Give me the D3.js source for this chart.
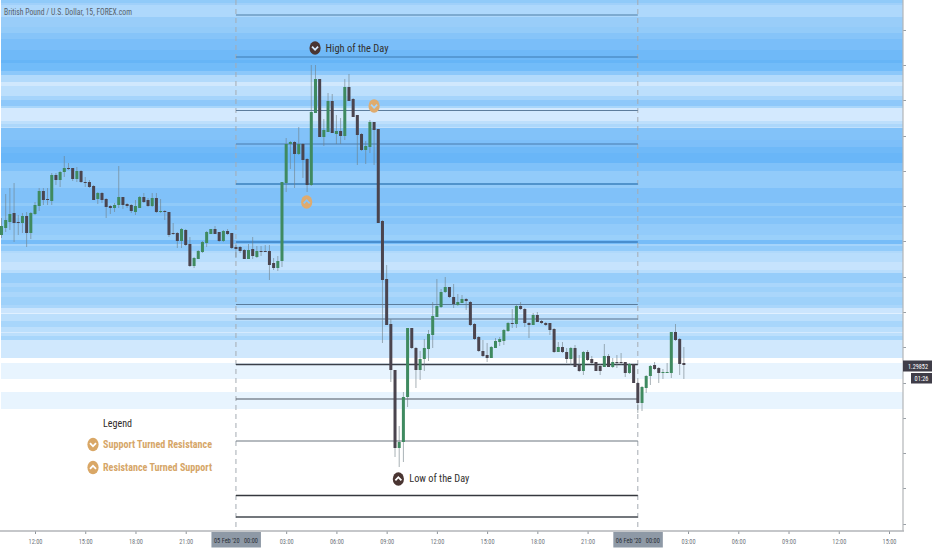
<!DOCTYPE html>
<html><head><meta charset="utf-8">
<script src="https://cdn.jsdelivr.net/npm/d3@7"></script>
<style>html,body{margin:0;padding:0;background:#fff}svg{display:block}
text{font-family:"Liberation Sans Narrow","Roboto Condensed","Liberation Sans",sans-serif}</style>
</head><body><svg id="c" width="932" height="550"></svg>
<script>
// Prices are stored as pipettes above 1.29000
const BASE = 1.29, PIP = 1e-5;
const opens=[982,989,995,1004,995,994,1001,984,1003,1011,1026,1018,1016,1042,1037,1045,1049,1049,1038,1046,1035,1035,1031,1018,1024,1018,1011,1009,1012,1020,1013,1012,1005,1009,1020,1017,1011,1019,1005,1006,1005,984,984,976,987,973,951,958,965,974,983,988,985,976,986,984,970,970,967,958,968,960,966,966,966,954,949,956,1034,1073,1075,1063,1073,1058,1032,1104,1138,1080,1085,1116,1083,1086,1081,1130,1118,1102,1083,1067,1070,1095,1088,996,938,893,847,769,775,820,889,869,847,858,868,882,900,910,925,930,920,912,914,918,915,893,880,866,862,859,869,875,876,886,894,893,911,908,894,892,902,896,894,894,888,865,870,865,858,869,852,846,865,858,855,851,850,861,850,855,855,855,844,853,834,814,829,841,852,849,844,844,844,885,878,854];
const highs=[999,1023,1029,1034,1002,1004,1005,1005,1015,1029,1029,1029,1044,1044,1046,1061,1054,1049,1050,1047,1040,1037,1032,1025,1025,1019,1012,1014,1051,1020,1014,1013,1017,1021,1024,1019,1024,1024,1018,1007,1005,994,985,989,988,980,960,967,976,986,988,991,985,987,988,984,972,971,968,973,980,971,971,972,972,959,961,1035,1079,1076,1076,1090,1074,1059,1152,1152,1138,1098,1124,1123,1102,1099,1138,1143,1119,1102,1084,1076,1097,1095,1088,997,952,898,847,791,825,889,889,870,866,878,887,915,938,928,940,930,933,923,922,919,916,894,881,877,874,871,879,880,888,895,908,912,915,909,895,904,905,897,895,894,889,875,875,869,870,872,862,866,867,861,855,853,873,863,859,862,864,855,854,853,835,831,842,852,855,850,848,854,885,893,879,870];
const lows=[979,985,987,975,982,984,970,978,1002,1006,1012,1012,1012,1032,1030,1040,1047,1036,1035,1034,1030,1029,1017,1013,1014,999,1003,1005,1009,1008,1009,1004,1002,1009,1014,1010,1010,1004,1004,997,980,982,969,969,971,950,949,958,964,970,983,983,975,975,982,968,959,964,958,958,958,959,961,965,937,947,946,950,1025,1048,1029,1062,1039,1025,1031,1104,1080,1071,1085,1084,1073,1073,1077,1116,1100,1052,1066,1053,1064,1052,994,874,892,835,760,750,755,810,868,829,837,846,856,869,900,909,924,919,909,911,914,907,891,877,865,860,855,859,869,871,872,885,889,889,907,890,879,892,895,893,891,882,864,865,864,854,852,850,845,842,856,853,846,842,850,850,849,849,852,840,843,834,804,806,824,832,847,834,838,844,839,876,842,838];
const closes=[991,997,1003,994,994,1001,984,1004,1012,1026,1017,1017,1042,1037,1045,1049,1048,1038,1046,1035,1034,1030,1017,1024,1017,1010,1009,1012,1020,1012,1011,1006,1011,1020,1015,1011,1019,1005,1006,1005,982,983,976,988,972,951,959,966,975,985,988,983,976,986,983,969,968,966,958,967,961,966,965,965,952,949,956,1035,1073,1075,1063,1073,1057,1032,1105,1138,1080,1087,1116,1084,1086,1081,1130,1116,1100,1082,1067,1071,1095,1087,994,937,892,847,769,775,820,889,869,847,858,869,883,901,911,925,930,920,913,915,918,916,892,878,866,861,859,870,876,878,887,894,893,911,908,894,892,902,895,894,892,887,865,870,865,858,869,850,846,865,857,854,846,846,861,850,855,854,854,844,853,834,814,830,841,851,848,844,845,845,885,877,853,852];

// Shaded price bands: edges (pipettes, descending) and the fill of each band
const bandEdges=[1217,1214,1212,1200,1190,1184,1178,1167,1157,1154,1146,1142,1135,1131,1121,1117,1111,1109,1096,1093,1090,1089,1077,1070,1064,1054,1046,1029,1014,1011,1001,999,993,982,977,973,971,966,964,955,947,944,937,934,930,925,920,912,909,904,903,896,890,885,884,881,877,859,854,838,825,808];
const bandColors=["#90caf9","#a0d0fa","#aed8fc","#99cdf9","#93cbf9","#86c4f9","#7abef9","#6fb9f8","#66b5f7","#72bcf9","#8cc8fa","#b2dafb","#d0e8fd","#bcdffc","#a5d4fb","#8ec8fa","#a8d6fb","#d3e9fe","#bddffc","#acd7fb","#c0e0fc","#82c2f9","#7dbff9","#6fb9f8","#69b6f8","#7fc1f9","#92cbfa","#80c1f9","#90caf9","#80c1f9","#90caf9","#85c4f9","#92cbfa","#9ad0fa","#76bcf8","#a5d4fb","#92cbfa","#b0d9fb","#b8ddfc","#c6e3fd","#b8ddfc","#96cdfa","#96cdfa","#aad6fb","#9ed1fa","#aad6fb","#9ed1fa","#aad6fb","#cbe5fd","#e0f0ff","#bcdffc","#a8d6fb","#bcdffc","#d5eafe","#bcdffc","#a8d6fb","#d0e8fd","#ffffff","#e8f4fe","#ffffff","#e8f4fe"];

// Horizontal support / resistance levels
const levels=[1202,1160,1106.5,1073,1033,975,912.5,898,852.5,818,776,721.5,700];
const levelColors=["#4d7ca4","#3f7cb2","#5c7c9c","#4a7dad","#3a80bd","#3a7fc2","#5a7c9c","#56708c","#3a3f48","#4c5560","#6c7680","#35383e","#454a50"];
const levelWidths=[1.1,1.2,1.2,1.2,1.4,1.4,1.2,1.2,1.6,1.2,1.1,1.4,1.3];

const priceTicks=[1187,1152,1117,1081,1046,1011,976,940,905,870,834,799,764,729,693];
const timeLabels=["12:00","15:00","18:00","21:00","03:00","06:00","09:00","12:00","15:00","18:00","21:00","03:00","06:00","09:00","12:00","15:00"];
const title="British Pound / U.S. Dollar, 15, FOREX.com";
const lastPrice=852, countdown="01:26";

const t0=Date.UTC(2020,1,4,10), step=15*60e3;
const hour=3600e3;
const timeOf=i=>new Date(t0+i*step);
const timeTicks=d3.range(0,18).map(h=>new Date(Date.UTC(2020,1,4,12)+h*3*hour)).filter(d=>d.getUTCHours()!==0);

const x=d3.scaleUtc().domain([Date.UTC(2020,1,4,12),Date.UTC(2020,1,6,15)]).range([35,889]);
const y=d3.scaleLinear().domain([BASE+1217*PIP,BASE+667*PIP]).range([0,550]);
const P=v=>y(BASE+v*PIP);
const X=i=>x(timeOf(i));

const svg=d3.select("#c");
svg.append("rect").attr("width",932).attr("height",550).attr("fill","#fff");
const plotL=1, plotR=903;

// bands
svg.append("g").selectAll("rect").data(bandColors).join("rect")
 .attr("x",plotL).attr("width",plotR-plotL)
 .attr("y",(d,i)=>P(bandEdges[i])).attr("height",(d,i)=>P(bandEdges[i+1])-P(bandEdges[i]))
 .attr("fill",d=>d).attr("shape-rendering","crispEdges");

// session lines
const sessStart=Date.UTC(2020,1,5), sessEnd=Date.UTC(2020,1,6);
svg.append("g").selectAll("line").data([sessStart,sessEnd]).join("line")
 .attr("x1",d=>x(d)).attr("x2",d=>x(d)).attr("y1",0).attr("y2",531)
 .attr("stroke","#a5abb2").attr("stroke-width",1).attr("stroke-dasharray","5,4");

// levels
svg.append("g").selectAll("line").data(levels).join("line")
 .attr("x1",x(sessStart)).attr("x2",x(sessEnd)).attr("y1",d=>P(d)).attr("y2",d=>P(d))
 .attr("stroke",(d,i)=>levelColors[i]).attr("stroke-width",(d,i)=>levelWidths[i]);

// candles
const idx=d3.range(opens.length);
const gc=svg.append("g");
gc.selectAll("line").data(idx).join("line")
 .attr("x1",X).attr("x2",X).attr("y1",i=>P(highs[i])).attr("y2",i=>P(lows[i]))
 .attr("stroke","#6f7f86").attr("stroke-opacity",.6).attr("stroke-width",1);
gc.selectAll("rect").data(idx).join("rect")
 .attr("x",i=>X(i)-1.5).attr("width",3)
 .attr("y",i=>P(Math.max(opens[i],closes[i])))
 .attr("height",i=>Math.max(1,Math.abs(P(opens[i])-P(closes[i]))))
 .attr("fill",i=>closes[i]>=opens[i]?"#3f8a60":"#4a444e");

// icons
function icon(cx,cy,up,fill,chev){
 const g=svg.append("g").attr("transform",`translate(${cx},${cy})`);
 g.append("ellipse").attr("rx",5.6).attr("ry",6.8).attr("fill",fill);
 const s=up?-1:1;
 g.append("path").attr("d",`M-3,${-1.4*s}L0,${1.8*s}L3,${-1.4*s}`).attr("fill","none").attr("stroke",chev).attr("stroke-width",1.8);
}
// text helper: fits a label to the width it occupies in the reference
const label=(px,py,str,c,w,sz,len,anchor)=>{
 const t=svg.append("text").attr("x",px).attr("y",py).attr("fill",c).attr("font-weight",w).attr("font-size",sz)
  .attr("xml:space","preserve").text(str);
 if(anchor) t.attr("text-anchor",anchor);
 if(len) t.attr("textLength",len).attr("lengthAdjust","spacingAndGlyphs");
 return t;
};
icon(X(74.9),P(1169),false,"#4a3532","#d7ecff");
icon(X(94.8),P(738),true,"#4a3532","#fff");
icon(X(89),P(1111),false,"#dfab6e","#a6d4fa");
icon(X(72.9),P(1015),true,"#dfab6e","#86c4f9");
label(X(77.4),P(1165),"High of the Day","#33302e",400,11,63);
label(X(97.4),P(735),"Low of the Day","#33302e",400,11,60);

// legend
label(103,427,"Legend","#2e2a28",400,11,29);
icon(93,444.5,false,"#d9a766","#fff");
icon(93,467.5,true,"#d9a766","#fff");
label(103,448,"Support Turned Resistance","#d6a668",700,10.5,109);
label(103,471,"Resistance Turned Support","#d6a668",700,10.5,109);

// title
label(4,15,title,"#56606a",400,9.5,128);

// axes
const xAxis=d3.axisBottom(x).tickValues(timeTicks).tickSize(3).tickPadding(4).tickFormat((d,i)=>timeLabels[i]);
const gx=svg.append("g").attr("transform","translate(0,531)").call(xAxis);
gx.select(".domain").remove();
gx.selectAll("line").attr("stroke","#8f959b");
gx.selectAll("text").attr("fill","#6f767d").attr("font-size",8)
  .attr("textLength",14).attr("lengthAdjust","spacingAndGlyphs");
const yAxis=d3.axisRight(y).tickValues(priceTicks.map(v=>BASE+v*PIP)).tickSize(3).tickFormat("");
const gy=svg.append("g").attr("transform","translate(903,0)").call(yAxis);
gy.select(".domain").remove();
gy.selectAll("line").attr("stroke","#9aa0a6");
svg.append("line").attr("x1",0).attr("x2",904).attr("y1",531).attr("y2",531).attr("stroke","#b2b5b8").attr("stroke-width",1.5);
svg.append("line").attr("x1",903).attr("x2",903).attr("y1",0).attr("y2",531).attr("stroke","#b2b5b8").attr("stroke-width",1.2);

// date boxes
[[sessStart,"05 Feb '20   00:00"],[sessEnd,"06 Feb '20   00:00"]].forEach(([d,s])=>{
 const cx=x(d);
 svg.append("rect").attr("x",cx-24.5).attr("width",49.5).attr("y",532).attr("height",15.5).attr("fill","#8e99a6");
 label(cx,543,s,"#2b2f36",400,8,44,"middle");
});

// last price
const ly=P(lastPrice);
svg.append("rect").attr("x",903).attr("y",ly-4.5).attr("width",29).attr("height",11).attr("fill","#3f3d48");
label(918,ly+4,(BASE+lastPrice*PIP).toFixed(5),"#fff",400,8,20,"middle");
svg.append("rect").attr("x",911).attr("y",ly+8).attr("width",21).attr("height",10.5).attr("fill","#3f3d48");
label(921.5,ly+16,countdown,"#fff",400,8,14,"middle");
</script></body></html>
